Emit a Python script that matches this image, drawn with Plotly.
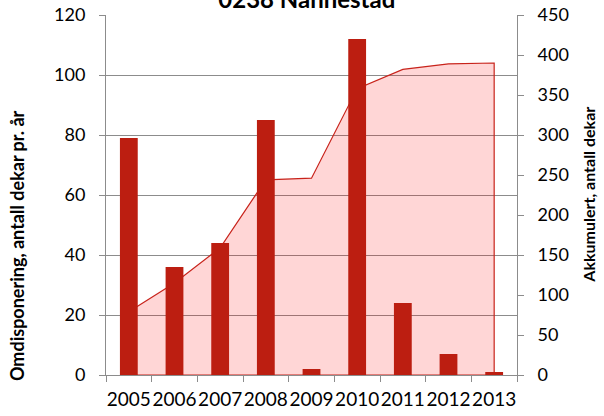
import plotly.graph_objects as go

years = ["2005", "2006", "2007", "2008", "2009", "2010", "2011", "2012", "2013"]
per_year = [79, 36, 44, 85, 2, 112, 24, 7, 1]
cumulative = [79, 115, 159, 244, 246, 358, 382, 389, 390]

left_ticks = [0, 20, 40, 60, 80, 100, 120]
right_ticks = [0, 50, 100, 150, 200, 250, 300, 350, 400, 450]

font = "Lato, Open Sans, sans-serif"
grey = "#8c8c8c"

fig = go.Figure()

# cumulative area on the right-hand axis (closed polygon so the edges get outlined)
fig.add_trace(go.Scatter(
    x=years + [years[-1], years[0]],
    y=cumulative + [0, 0],
    fill="toself",
    fillcolor="rgba(255,0,0,0.16)",
    line=dict(color="#c8231b", width=1.2),
    mode="lines",
    yaxis="y",
    showlegend=False,
))

# yearly bars on the left-hand axis (overlay so they sit above the area)
fig.add_trace(go.Bar(
    x=years,
    y=per_year,
    marker=dict(color="#bc1e11", line=dict(width=0)),
    width=0.39,
    yaxis="y2",
    showlegend=False,
))

fig.update_layout(
    width=604,
    height=416,
    margin=dict(l=106, r=87, t=15, b=41, autoexpand=False),
    plot_bgcolor="white",
    paper_bgcolor="white",
    font=dict(family=font, size=18, color="#000000"),
    title=dict(
        text="<b>0238 Nannestad</b>",
        x=0.508, xanchor="center",
        y=1.0, yanchor="middle", yref="container",
        font=dict(family=font, size=24, color="#000000"),
    ),
    xaxis=dict(
        type="category",
        range=[-0.5, 8.5],
        tickson="boundaries",
        ticks="outside",
        ticklen=6,
        tickcolor=grey,
        tickangle=0,
        ticklabelstandoff=7,
        automargin=False,
        showline=True,
        linecolor=grey,
        linewidth=1,
        showgrid=False,
        tickfont=dict(size=19),
    ),
    yaxis=dict(
        side="right",
        range=[0, 450],
        tickvals=right_ticks,
        ticks="outside",
        ticklen=6,
        tickcolor=grey,
        ticklabelstandoff=10,
        automargin=False,
        showline=True,
        linecolor=grey,
        showgrid=False,
        zeroline=False,
        tickfont=dict(size=18),
    ),
    yaxis2=dict(
        overlaying="y",
        side="left",
        range=[0, 120],
        tickvals=left_ticks,
        ticks="outside",
        ticklen=6,
        tickcolor=grey,
        ticklabelstandoff=10,
        automargin=False,
        showline=True,
        linecolor=grey,
        showgrid=True,
        gridcolor=grey,
        gridwidth=1,
        zeroline=False,
        tickfont=dict(size=18),
    ),
    bargap=0.6,
)

fig.add_annotation(
    text="<b>Omdisponering, antall dekar pr. år</b>",
    textangle=-90,
    xref="paper", yref="paper",
    x=-0.215, y=0.36,
    xanchor="center", yanchor="middle",
    showarrow=False,
    font=dict(family=font, size=18),
)
fig.add_annotation(
    text="<b>Akkumulert, antall dekar</b>",
    textangle=-90,
    xref="paper", yref="paper",
    x=1.172, y=0.5,
    xanchor="center", yanchor="middle",
    showarrow=False,
    font=dict(family=font, size=16),
)

fig.write_html(
    "out.html",
    config={"displayModeBar": False},
    post_script="document.body.style.margin='0';",
)
